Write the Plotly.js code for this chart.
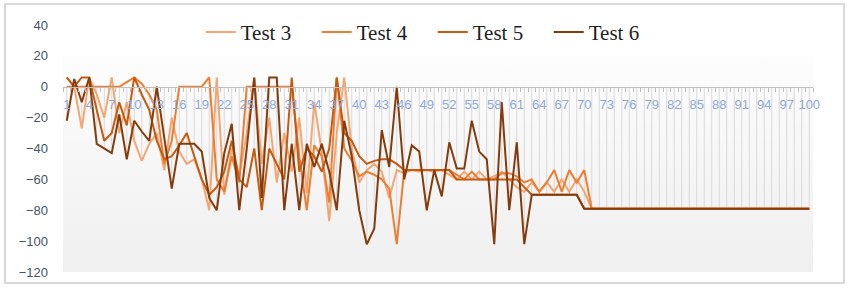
<!DOCTYPE html>
<html>
<head>
<meta charset="utf-8">
<script src="https://cdn.plot.ly/plotly-3.0.1.min.js"></script>
<style>
  html, body { margin: 0; padding: 0; background: #ffffff; }
  #chart { width: 848px; height: 301px; }
</style>
</head>
<body>
<div id="chart"></div>
<script>
// ---- data ----
const categories = [1,2,3,4,5,6,7,8,9,10,11,12,13,14,15,16,17,18,19,20,21,22,23,24,25,26,27,28,29,30,31,32,33,34,35,36,37,38,39,40,41,42,43,44,45,46,47,48,49,50,51,52,53,54,55,56,57,58,59,60,61,62,63,64,65,66,67,68,69,70,71,72,73,74,75,76,77,78,79,80,81,82,83,84,85,86,87,88,89,90,91,92,93,94,95,96,97,98,99,100];

const seriesNames = ["Test 3", "Test 4", "Test 5", "Test 6"];

const test3 = [6,0,-27,6,-5,-20,6,-30,-10,-35,-48,-37,-30,-54,-20,-42,-50,-47,-60,-80,
  6,-70,-40,-58,-30,6,-50,-20,-62,-30,-55,-20,-69,-10,-42,-87,-30,6,-40,-62,
  -54,-50,-55,-72,-54,-56,-54,-55,-54,-55,-54,-57,-60,-55,-60,-55,-60,-58,-55,-60,
  -65,-68,-62,-68,-62,-68,-60,-68,-60,-68,-79,-79,-79,-79,-79,-79,-79,-79,-79,-79,
  -79,-79,-79,-79,-79,-79,-79,-79,-79,-79,-79,-79,-79,-79,-79,-79,-79,-79,-79,-79];

const test4 = [0,0,0,0,0,0,0,0,3,6,2,-5,-15,-50,-35,0,0,0,0,6,
  -60,-68,-45,-62,0,0,0,0,0,0,0,-45,-80,-38,-45,-75,6,-40,-48,-58,
  -55,-57,-60,-66,-102,-54,-54,-54,-54,-54,-54,-54,-57,-60,-55,-60,-60,-60,-56,-56,
  -58,-62,-60,-68,-62,-54,-68,-54,-62,-54,-79,-79,-79,-79,-79,-79,-79,-79,-79,-79,
  -79,-79,-79,-79,-79,-79,-79,-79,-79,-79,-79,-79,-79,-79,-79,-79,-79,-79,-79,-79];

const test5 = [6,0,6,6,-15,-35,-30,-10,-25,6,-5,-15,-35,-47,-45,-38,-30,-45,-60,-70,
  -65,-55,-35,-60,-65,-40,-80,-40,-50,-60,6,-55,-40,-45,-55,-40,6,-30,-35,-45,
  -50,-48,-47,-47,-50,-54,-54,-54,-54,-54,-54,-54,-60,-60,-60,-60,-60,-60,-60,-60,
  -60,-65,-70,-70,-70,-70,-70,-70,-70,-79,-79,-79,-79,-79,-79,-79,-79,-79,-79,-79,
  -79,-79,-79,-79,-79,-79,-79,-79,-79,-79,-79,-79,-79,-79,-79,-79,-79,-79,-79,-79];

const test6 = [-22,5,-10,6,-37,-40,-43,-18,-47,-22,-29,-35,0,-33,-66,-37,-37,-37,-42,-72,
  -80,-43,-24,-80,-40,6,-72,6,6,-80,-37,-80,-37,-52,-37,-55,-80,-22,-45,-80,
  -102,-92,-28,-52,0,-60,-38,-42,-80,-54,-71,-36,-53,-53,-22,-42,-47,-102,-10,-80,
  -36,-102,-70,-70,-70,-70,-70,-70,-70,-79,-79,-79,-79,-79,-79,-79,-79,-79,-79,-79,
  -79,-79,-79,-79,-79,-79,-79,-79,-79,-79,-79,-79,-79,-79,-79,-79,-79,-79,-79,-79];

const yTickVals = [40,20,0,-20,-40,-60,-80,-100,-120];

// ---- styles ----
const colors = ["#F4A672", "#ED7D31", "#C55A11", "#843C0C"];
const allSeries = [test3, test4, test5, test6];

// drop lines from the axis (0) to the lowest point of each category
const dropX = [], dropY = [];
categories.forEach((c, i) => {
  const lo = Math.min(test3[i], test4[i], test5[i], test6[i]);
  dropX.push(c, c, null);
  dropY.push(0, lo, null);
});

const traces = [{
  x: dropX, y: dropY, mode: "lines", type: "scatter",
  line: {color: "#d9d9d9", width: 1},
  hoverinfo: "skip", showlegend: false
}];

allSeries.forEach((s, k) => {
  traces.push({
    x: categories, y: s, type: "scatter", mode: "lines",
    name: seriesNames[k],
    line: {color: colors[k], width: 2}
  });
});

const gradSvg = '<svg xmlns="http://www.w3.org/2000/svg" width="10" height="100" preserveAspectRatio="none">' +
  '<defs><linearGradient id="g" x1="0" y1="0" x2="0" y2="1">' +
  '<stop offset="0" stop-color="#fdfdfd"/><stop offset="1" stop-color="#efefef"/>' +
  '</linearGradient></defs><rect width="10" height="100" fill="url(#g)"/></svg>';

const layout = {
  width: 848, height: 301,
  margin: {l: 63, r: 35, t: 25, b: 29, pad: 0},
  paper_bgcolor: "#ffffff",
  plot_bgcolor: "rgba(0,0,0,0)",
  showlegend: true,
  legend: {
    orientation: "h",
    x: 0.493, xanchor: "center",
    y: 0.97, yanchor: "middle",
    font: {family: "Liberation Serif, serif", size: 21, color: "#1f1f1f"},
    entrywidth: 71, entrywidthmode: "pixels",
    bgcolor: "rgba(0,0,0,0)", borderwidth: 0,
    traceorder: "normal"
  },
  xaxis: {
    range: [0.5, 100.5],
    anchor: "free", position: 0.75,
    tickmode: "linear", tick0: 1, dtick: 3,
    ticks: "", showgrid: false, zeroline: false,
    showline: true, linecolor: "#bfbfbf", linewidth: 1,
    minor: {tick0: 0.5, dtick: 1, ticks: "outside", ticklen: 4, tickcolor: "#bfbfbf", showgrid: false},
    ticklabelstandoff: 6,
    tickfont: {family: "Liberation Sans, Arial, sans-serif", size: 13, color: "#8EA9DB"},
    fixedrange: true
  },
  yaxis: {
    range: [-120, 40],
    tickmode: "array", tickvals: yTickVals,
    ticks: "", showgrid: false, zeroline: false, showline: false,
    ticklabelstandoff: 14,
    tickfont: {family: "Liberation Sans, Arial, sans-serif", size: 13, color: "#44546A"},
    fixedrange: true
  },
  images: [{
    source: "data:image/svg+xml;charset=utf-8," + encodeURIComponent(gradSvg),
    xref: "x", yref: "y", x: 0.5, y: 20, sizex: 100, sizey: 140,
    sizing: "stretch", layer: "below", xanchor: "left", yanchor: "top"
  }],
  shapes: [{
    type: "rect", xref: "paper", yref: "paper",
    x0: -0.0773, x1: 1.0413, y0: -0.0445, y1: 1.085,
    line: {color: "#d9d9d9", width: 2}, fillcolor: "rgba(0,0,0,0)", layer: "below"
  }]
};

Plotly.newPlot("chart", traces, layout, {displayModeBar: false, staticPlot: true});
</script>
</body>
</html>
